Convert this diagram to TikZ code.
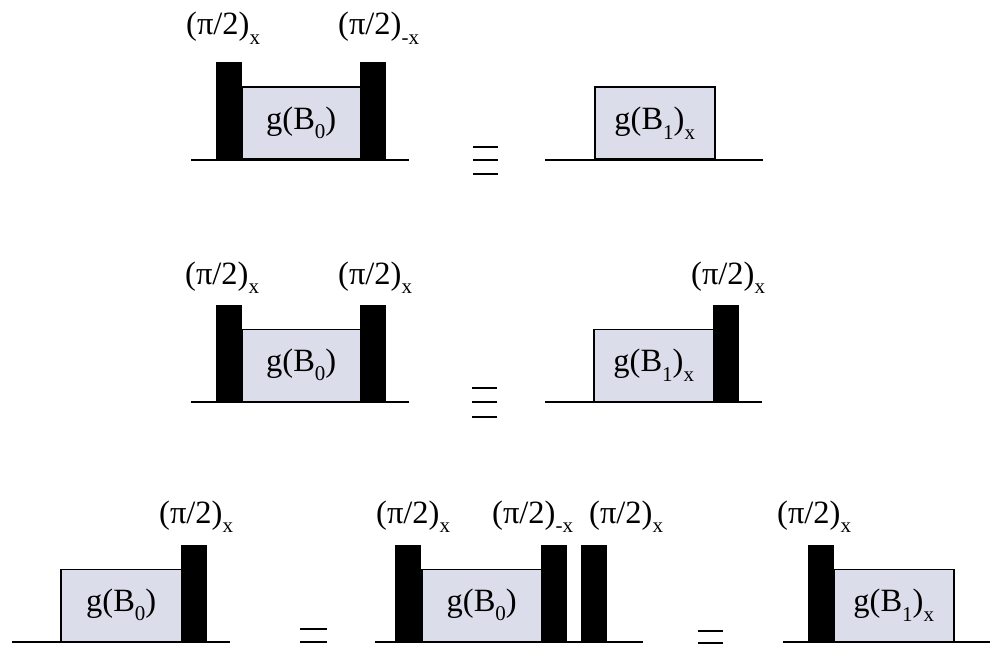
\documentclass[tikz,border=0pt]{standalone}
\usepackage{fontspec}
\setmainfont{Liberation Serif}
\definecolor{boxfill}{HTML}{DCDDEA}
\newcommand{\sbx}[1]{\raisebox{-0.28em}{\fontsize{21}{21}\selectfont #1}}
\begin{document}
\begin{tikzpicture}[x=1pt,y=-1pt,
 pulse/.style={draw=black, fill=black, line width=0.5pt, minimum width=25pt, minimum height=97pt, inner sep=0pt, anchor=south west},
 gbox/.style={draw=black, fill=boxfill, line width=1.5pt, minimum width=120pt, minimum height=72pt, inner sep=0pt, anchor=south west, font=\fontsize{32.5}{32.5}\selectfont},
 lbl/.style={anchor=base west, inner sep=0pt, font=\fontsize{32.5}{32.5}\selectfont},
 axis/.style={line width=1.8pt},
 eqbar/.style={line width=2.8pt}]
\useasboundingbox (0,0) rectangle (990,655);
% ---------- Row 1 ----------
\coordinate (r1a) at (191,160); \coordinate (r1b) at (409,160);
\draw[axis] (r1a) -- (r1b);
\node[gbox, minimum width=119pt] (b1) at (241,160) {g(B\sbx{0})};
\node[pulse] (p1a) at (216,160) {};
\node[pulse] (p1b) at (360,160) {};
\node[lbl] (l1a) at (186,35) {(π/2)\sbx{x}};
\node[lbl] (l1b) at (338,35) {(π/2)\sbx{-x}};
\coordinate (e1a) at (473,147); \coordinate (e1b) at (498,147);
\coordinate (e1c) at (473,160); \coordinate (e1d) at (498,160);
\coordinate (e1e) at (473,174); \coordinate (e1f) at (498,174);
\draw[eqbar] (e1a) -- (e1b);
\draw[eqbar] (e1c) -- (e1d);
\draw[eqbar] (e1e) -- (e1f);
\coordinate (r1c) at (545,160); \coordinate (r1d) at (763,160);
\draw[axis] (r1c) -- (r1d);
\node[gbox] (b1r) at (594,160) {g(B\sbx{1})\sbx{x}};
% ---------- Row 2 ----------
\coordinate (r2a) at (191,402); \coordinate (r2b) at (409,402);
\draw[axis] (r2a) -- (r2b);
\node[gbox, minimum width=119pt] (b2) at (241,402) {g(B\sbx{0})};
\node[pulse] (p2a) at (216,402) {};
\node[pulse] (p2b) at (360,402) {};
\node[lbl] (l2a) at (185,284) {(π/2)\sbx{x}};
\node[lbl] (l2b) at (338,284) {(π/2)\sbx{x}};
\coordinate (e2a) at (472,388); \coordinate (e2b) at (497,388);
\coordinate (e2c) at (472,402); \coordinate (e2d) at (497,402);
\coordinate (e2e) at (472,417); \coordinate (e2f) at (497,417);
\draw[eqbar] (e2a) -- (e2b);
\draw[eqbar] (e2c) -- (e2d);
\draw[eqbar] (e2e) -- (e2f);
\coordinate (r2c) at (545,402); \coordinate (r2d) at (762,402);
\draw[axis] (r2c) -- (r2d);
\node[gbox] (b2r) at (593,402) {g(B\sbx{1})\sbx{x}};
\node[pulse] (p2r) at (713,402) {};
\node[lbl] (l2r) at (691,284) {(π/2)\sbx{x}};
% ---------- Row 3 ----------
\coordinate (r3a) at (12,642); \coordinate (r3b) at (230,642);
\draw[axis] (r3a) -- (r3b);
\node[gbox, minimum width=121pt] (b3) at (60,642) {g(B\sbx{0})};
\node[pulse] (p3) at (181,642) {};
\node[lbl] (l3) at (159,523) {(π/2)\sbx{x}};
\coordinate (q1a) at (300,629); \coordinate (q1b) at (327,629);
\coordinate (q1c) at (300,642); \coordinate (q1d) at (327,642);
\draw[eqbar] (q1a) -- (q1b);
\draw[eqbar] (q1c) -- (q1d);
\coordinate (r3c) at (375,642); \coordinate (r3d) at (643,642);
\draw[axis] (r3c) -- (r3d);
\node[gbox] (b3m) at (421,642) {g(B\sbx{0})};
\node[pulse] (p3a) at (395,642) {};
\node[pulse] (p3b) at (541,642) {};
\node[pulse] (p3c) at (581,642) {};
\node[lbl] (l3a) at (376,523) {(π/2)\sbx{x}};
\node[lbl] (l3b) at (492,523) {(π/2)\sbx{-x}};
\node[lbl] (l3c) at (589,523) {(π/2)\sbx{x}};
\coordinate (q2a) at (698,631); \coordinate (q2b) at (723,631);
\coordinate (q2c) at (698,643); \coordinate (q2d) at (723,643);
\draw[eqbar] (q2a) -- (q2b);
\draw[eqbar] (q2c) -- (q2d);
\coordinate (r3e) at (783,642); \coordinate (r3f) at (990,642);
\draw[axis] (r3e) -- (r3f);
\node[gbox] (b3r) at (833,642) {g(B\sbx{1})\sbx{x}};
\node[pulse] (p3r) at (808,642) {};
\node[lbl] (l3r) at (777,523) {(π/2)\sbx{x}};
\end{tikzpicture}
\end{document}
